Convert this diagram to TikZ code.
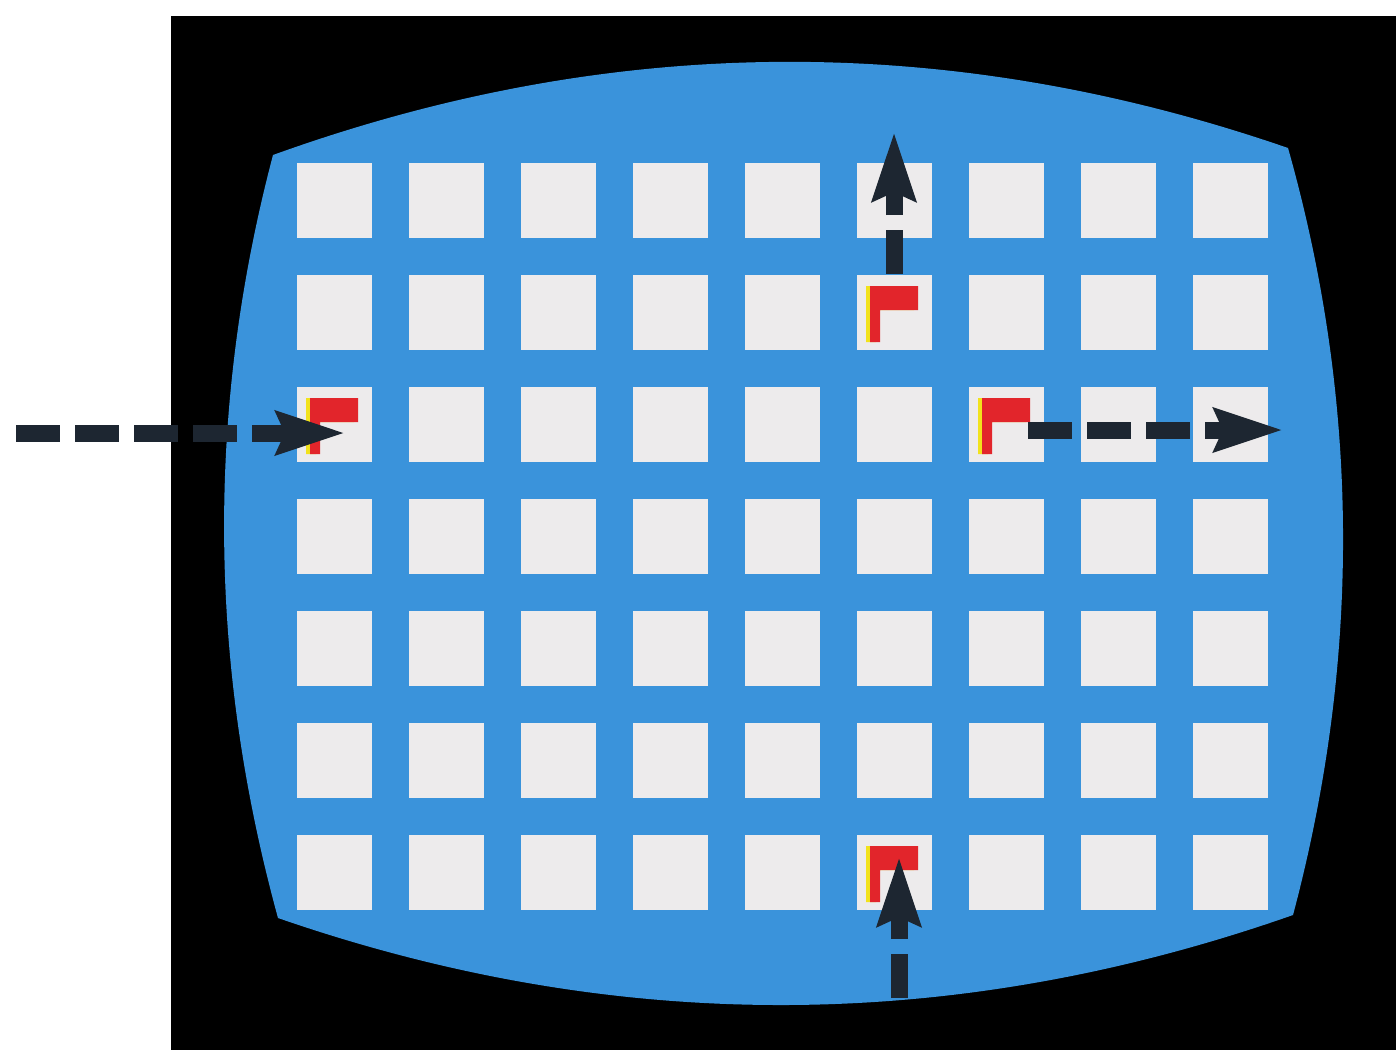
\documentclass[tikz,border=0pt]{standalone}
\usetikzlibrary{arrows.meta,calc}
\definecolor{screenblue}{HTML}{3A93DB}
\definecolor{cellgrey}{HTML}{EDEBEC}
\definecolor{flagred}{HTML}{E2252B}
\definecolor{flagyellow}{HTML}{F2E21C}
\definecolor{arrowdark}{HTML}{1D2631}
\tikzset{
  cell/.style={fill=cellgrey,minimum size=37.5pt,inner sep=0pt},
  flow/.style={draw=arrowdark,line width=8.5pt,dash pattern=on 22pt off 7.5pt,
    -{Stealth[length=34pt,width=21pt,inset=4pt]}}
}
\newcommand{\flagat}[1]{%
  \begin{scope}[shift={($(#1.north west)+(14,12)$)}]
    \fill[flagyellow] (-4,0)--(44,0)--(44,24)--(6,24)--(6,56)--(-4,56)--cycle;
    \fill[flagred] (0,0)--(48,0)--(48,24)--(10,24)--(10,56)--(0,56)--cycle;
  \end{scope}}
\begin{document}
\begin{tikzpicture}[x=0.5pt,y=-0.5pt]
  \useasboundingbox (0,0) rectangle (1396,1050);
  \fill[black] (171,16) rectangle (1396,1050);
  \fill[screenblue] (273,155) .. controls (611,33) and (949,31) .. (1288,148)
    .. controls (1360,403) and (1361,659) .. (1293,915)
    .. controls (954,1034) and (616,1035) .. (278,918)
    .. controls (208,663) and (206,409) .. cycle;
  \foreach \r in {1,...,7}
    \foreach \c in {1,...,9}
      \node[cell] (c\r\c) at ({334+112*(\c-1)},{200+112*(\r-1)}) {};
  \flagat{c31}
  \flagat{c26}
  \flagat{c37}
  \flagat{c76}
  \coordinate (inW) at (16,433);
  \coordinate (outE) at (1283,430);
  \coordinate (outN) at (894,132);
  \coordinate (inS) at (899,998);
  \draw[flow] (inW)--($(c31)+(11,9)$);
  \draw[flow] ($(c37)+(22,6)$)--(outE);
  \draw[flow] (c26.north)--(outN);
  \draw[flow] (inS)--($(c76)+(5,-15)$);
\end{tikzpicture}
\end{document}
